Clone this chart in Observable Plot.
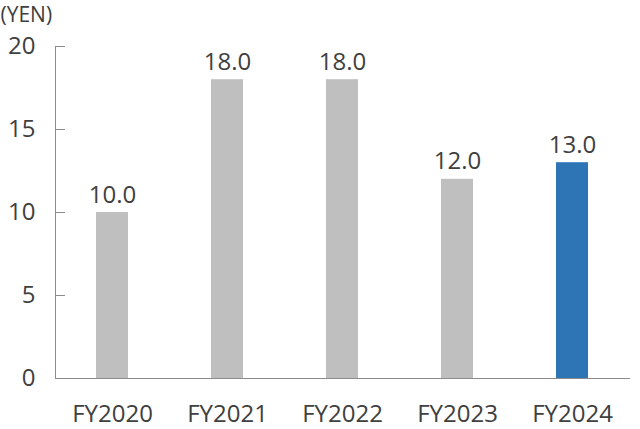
<!DOCTYPE html>
<html>
<head>
<meta charset="utf-8">
<script src="https://cdn.jsdelivr.net/npm/d3@7"></script>
<script src="https://cdn.jsdelivr.net/npm/@observablehq/plot@0.6"></script>
<style>
  html, body { margin: 0; padding: 0; background: #fff; }
  #chart svg { display: block; }
</style>
</head>
<body>
<div id="chart"></div>
<script>
const years = ["FY2020", "FY2021", "FY2022", "FY2023", "FY2024"];
const dividends = [10.0, 18.0, 18.0, 12.0, 13.0];
const barColors = ["#bfbfbf", "#bfbfbf", "#bfbfbf", "#bfbfbf", "#2e75b6"];
const yTicks = [0, 5, 10, 15, 20];
const unitLabel = "(YEN)";

const data = years.map((y, i) => ({year: y, value: dividends[i], color: barColors[i]}));

const font = "'Open Sans', 'Noto Sans', sans-serif";
const textColor = "#404040";
const axisColor = "#8c8c8c";

const W = 640, ML = 55, MR = 10, TICK = 10;

const chart = Plot.plot({
  width: W,
  height: 429,
  marginLeft: ML,
  marginRight: MR,
  marginTop: 46,
  marginBottom: 51,
  style: {fontFamily: font, color: textColor, background: "#fff"},
  x: {domain: years, paddingInner: 0.72, paddingOuter: 0.36, label: null},
  y: {domain: [0, 20], label: null},
  marks: [
    Plot.barY(data, {x: "year", y: "value", fill: "color"}),
    Plot.text(data, {x: "year", y: "value", text: d => d.value.toFixed(1), lineAnchor: "bottom", dy: -10, fontSize: 24, fill: textColor}),
    Plot.axisY({ticks: yTicks, tickSize: 0, tickPadding: 20, fontSize: 24, tickFormat: d => d, fill: textColor}),
    Plot.ruleY(yTicks, {stroke: axisColor, strokeWidth: 1, insetRight: W - ML - MR - TICK}),
    Plot.axisX({tickSize: 0, tickPadding: 26, fontSize: 24, fill: textColor}),
    Plot.frame({anchor: "left", stroke: axisColor}),
    Plot.ruleY([0], {stroke: axisColor}),
    Plot.text([unitLabel], {frameAnchor: "top-left", dx: -55, dy: -39, textAnchor: "start", lineAnchor: "top", fontSize: 21, fill: textColor})
  ]
});
document.getElementById("chart").appendChild(chart);
</script>
</body>
</html>
